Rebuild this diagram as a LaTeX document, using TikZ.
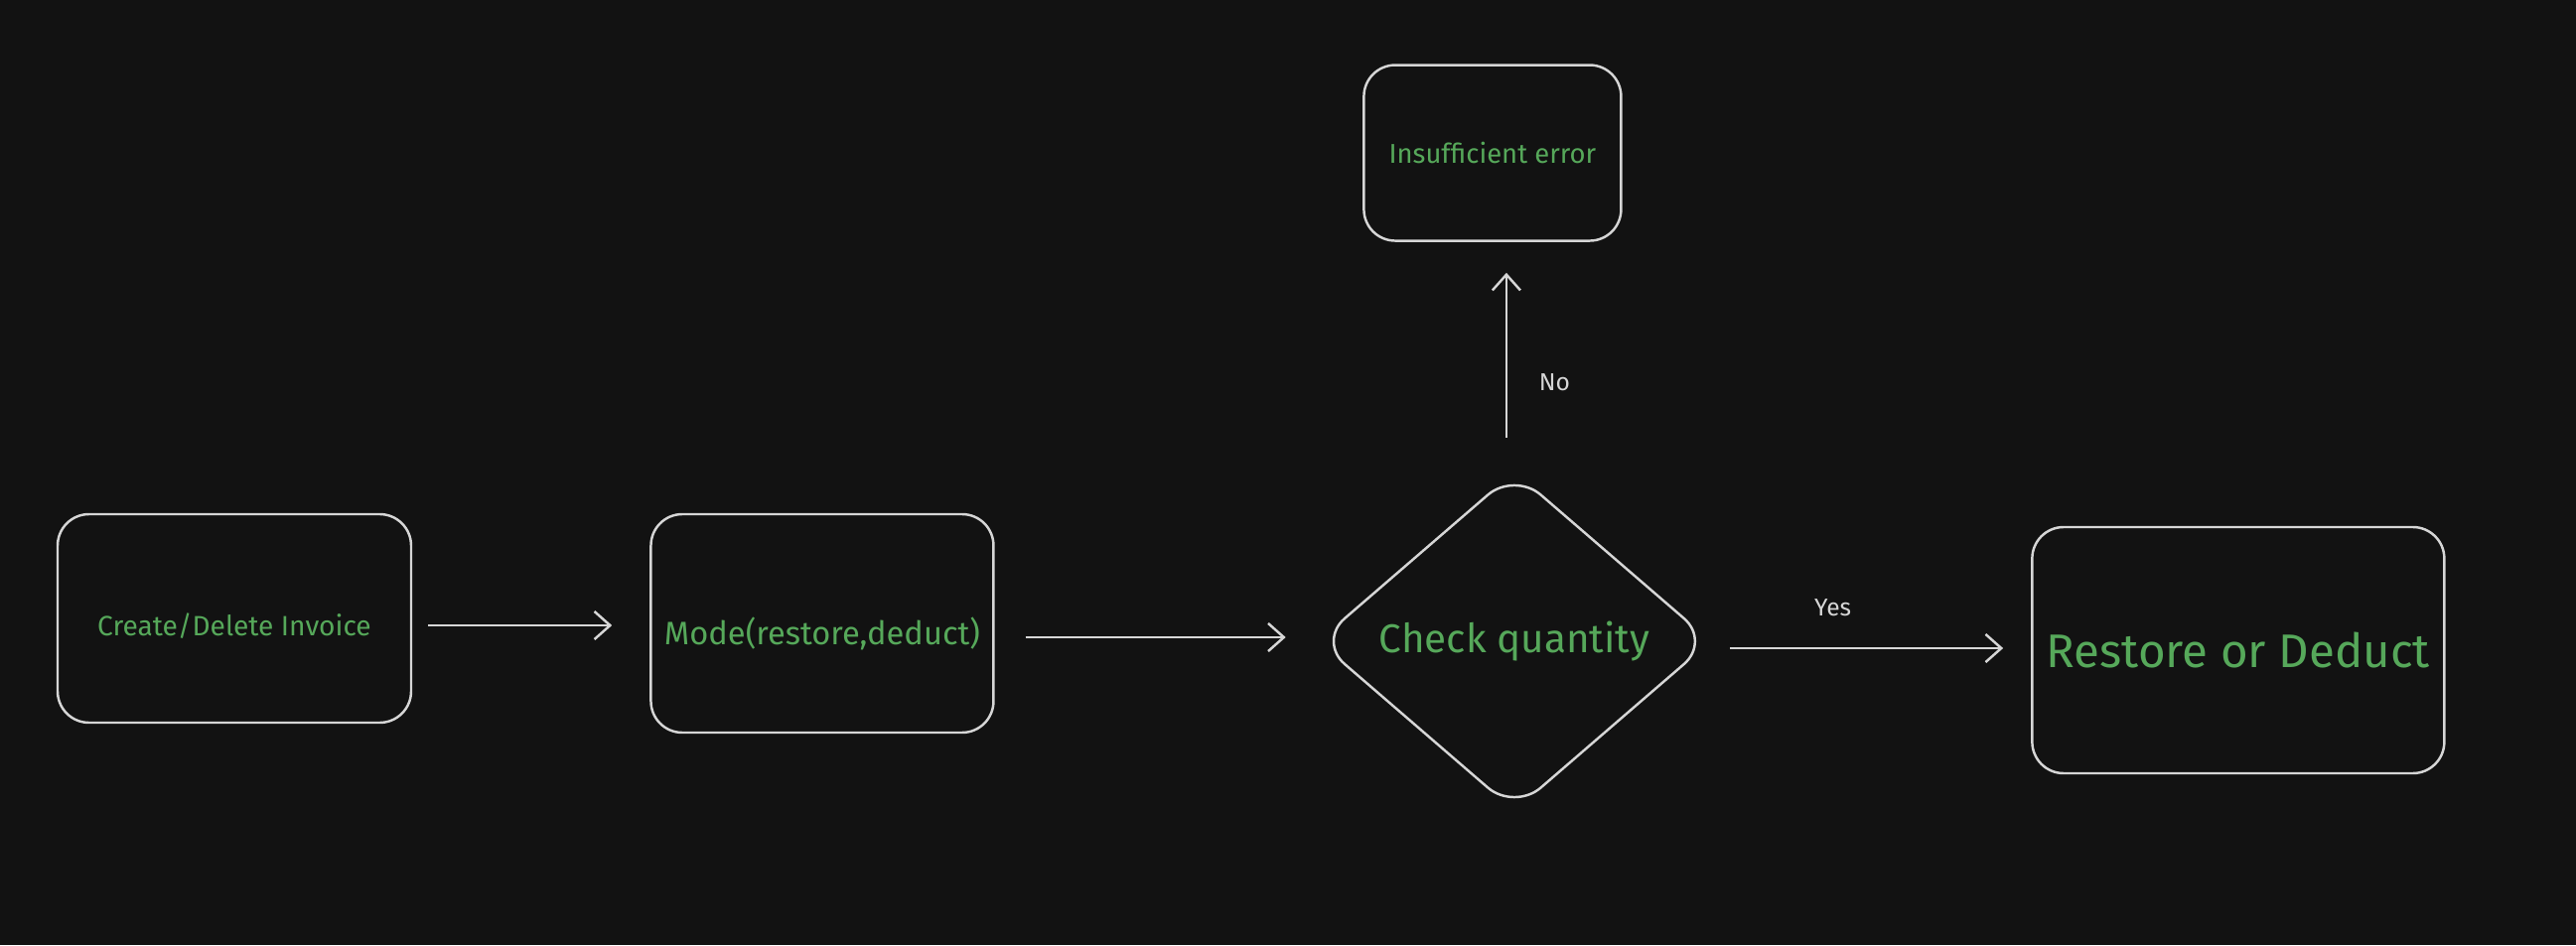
\documentclass[tikz,border=0pt]{standalone}
\usepackage{fontspec}
\setmainfont{Fira Sans}
\usepackage{tikz}
\usetikzlibrary{shapes.geometric, arrows.meta, positioning}
\definecolor{canvasbg}{HTML}{121212}
\definecolor{inkgrey}{HTML}{D6D6D6}
\definecolor{textgreen}{HTML}{56A85A}

\begin{document}
\begin{tikzpicture}[
  stepbox/.style={
    rectangle, rounded corners=9pt, draw=inkgrey, line width=0.7pt,
    text=textgreen, align=center, inner sep=2pt,
  },
  decision/.style={
    diamond, rounded corners=10pt, draw=inkgrey, line width=0.7pt,
    text=textgreen, inner sep=0pt,
  },
  flow/.style={-{Straight Barb[length=4.5pt, width=8pt]}, draw=inkgrey, line width=0.7pt},
  flowlabel/.style={text=inkgrey, font=\fontsize{7}{8}\selectfont},
  node distance=2.39cm,
]
  % canvas
  \fill[canvasbg] (0,0) rectangle (25.94,9.52);
  \useasboundingbox (0,0) rectangle (25.94,9.52);

  % Create/Delete Invoice (left)
  \node[stepbox, minimum width=3.56cm, minimum height=2.10cm,
        font=\fontsize{8}{10}\selectfont] (create) at (2.36,3.29)
        {\raisebox{-0.08cm}[\height][\depth]{Create/Delete Invoice}};

  % Mode
  \node[stepbox, minimum width=3.45cm, minimum height=2.20cm,
        font=\fontsize{9.3}{11}\selectfont,
        right=2.39cm of create, yshift=-0.05cm] (mode)
        {\raisebox{-0.1cm}[\height][\depth]{Mode(restore,deduct)}};

  % Check quantity (decision)
  \node[decision, minimum width=3.96cm, minimum height=3.42cm,
        font=\fontsize{11.5}{13}\selectfont,
        right=3.24cm of mode, yshift=-0.18cm] (check) {Check quantity};

  % Insufficient error (top)
  \node[stepbox, minimum width=2.59cm, minimum height=1.77cm,
        font=\fontsize{7.8}{9}\selectfont,
        above=2.30cm of check, xshift=-0.22cm] (insuff) {Insufficient error};

  % Restore or Deduct (right)
  \node[stepbox, minimum width=4.15cm, minimum height=2.48cm,
        font=\fontsize{13.5}{16}\selectfont,
        right=3.21cm of check, yshift=-0.09cm] (restore) {Restore or Deduct};

  % connectors
  \draw[flow, shorten <=0.16cm, shorten >=0.38cm]
    ([yshift=-0.07cm]create.east) -- ([yshift=-0.07cm]create.east -| mode.west);
  \draw[flow, shorten <=0.31cm, shorten >=0.31cm]
    ([yshift=-0.14cm]mode.east) -- ([yshift=-0.14cm]mode.east -| check.west);
  \draw[flow, shorten <=0.33cm, shorten >=0.31cm]
    ([xshift=-0.08cm]check.north) -- ([xshift=-0.08cm]check.north |- insuff.south)
    node[flowlabel, midway, right=0.2cm, yshift=-0.26cm] {No};
  \draw[flow, shorten <=0.18cm, shorten >=0.28cm]
    ([yshift=-0.07cm]check.east) -- ([yshift=-0.07cm]check.east -| restore.west)
    node[flowlabel, midway, above=0.19cm, xshift=-0.39cm] {Yes};
\end{tikzpicture}
\end{document}
